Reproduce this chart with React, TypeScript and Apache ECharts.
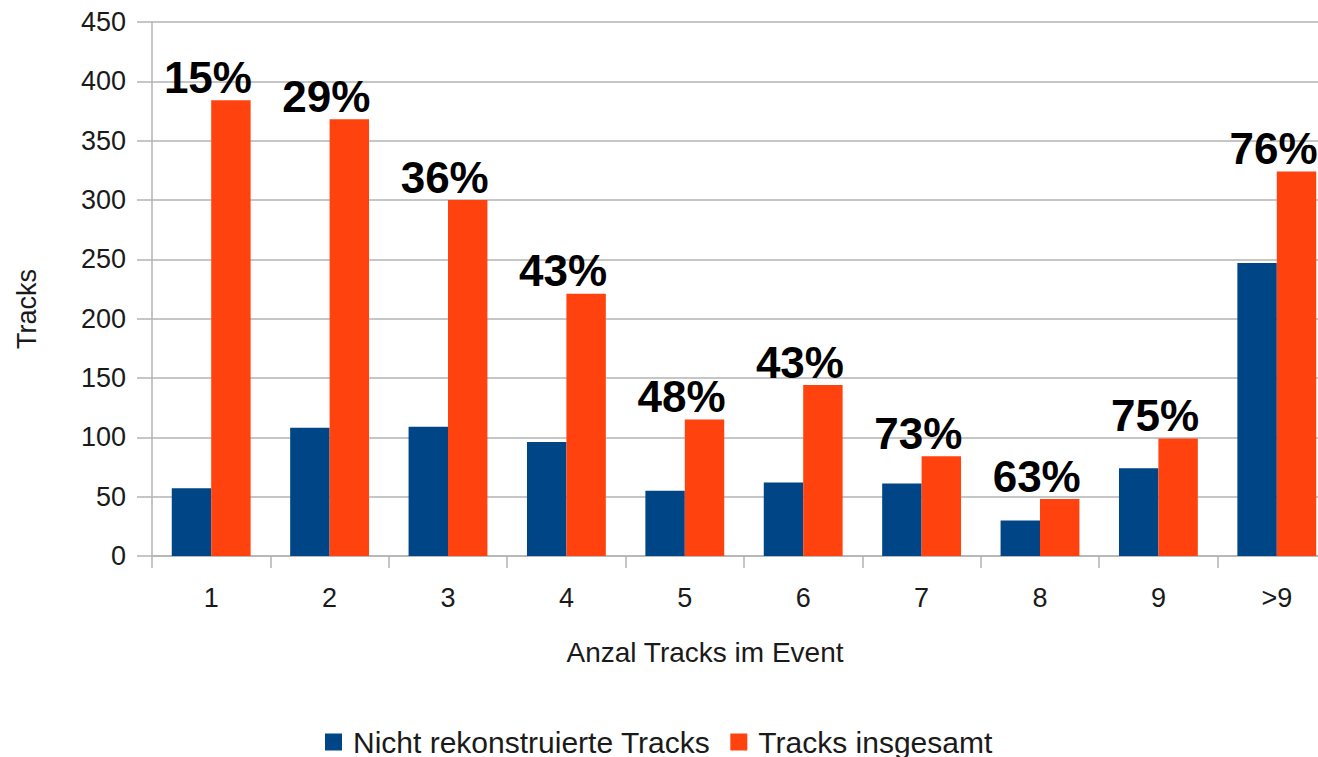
import React, { useEffect, useRef } from "react";
import * as echarts from "echarts";

// Number of tracks in an event (x categories)
const categories = ["1", "2", "3", "4", "5", "6", "7", "8", "9", ">9"];
// Tracks that were not reconstructed
const notReconstructed = [57, 108, 109, 96, 55, 62, 61, 30, 74, 247];
// All tracks
const totalTracks = [384, 368, 300, 221, 115, 144, 84, 48, 99, 324];
// Value axis ticks
const yMin = 0;
const yMax = 450;
const yStep = 50;

const FONT = "'Liberation Sans', Arial, sans-serif";
const BLUE = "#004586";
const ORANGE = "#ff420e";
const GRID = "#b3b3b3";

// share of non-reconstructed tracks, printed above each pair of bars
const shareLabel = (i: number) =>
  Math.round((notReconstructed[i] / totalTracks[i]) * 100) + "%";

export default function App() {
  const ref = useRef<HTMLDivElement>(null);

  useEffect(() => {
    if (!ref.current) return;
    const chart = echarts.init(ref.current, undefined, { renderer: "svg" });
    chart.setOption({
      animation: false,
      textStyle: { fontFamily: FONT },
      // the plot runs a little past the right edge of the visible frame
      grid: { left: 152, top: 22, right: 4, bottom: 201, containLabel: false },
      legend: {
        bottom: 0,
        left: 325,
        padding: 0,
        icon: "rect",
        itemWidth: 17,
        itemHeight: 17,
        itemGap: 20,
        textStyle: { fontFamily: FONT, fontSize: 30, color: "#1a1a1a", padding: [0, 0, 0, 6] },
        data: ["Nicht rekonstruierte Tracks", "Tracks insgesamt"],
      },
      xAxis: {
        type: "category",
        data: categories,
        boundaryGap: true,
        axisLine: { show: true, lineStyle: { color: GRID, width: 1.5 } },
        axisTick: { show: true, length: 12, lineStyle: { color: GRID, width: 1.5 } },
        axisLabel: { fontFamily: FONT, fontSize: 27, color: "#1a1a1a", margin: 28 },
      },
      yAxis: {
        type: "value",
        min: yMin,
        max: yMax,
        interval: yStep,
        axisLine: { show: true, lineStyle: { color: GRID, width: 1.5 } },
        axisTick: { show: true, length: 15, lineStyle: { color: GRID, width: 1.5 } },
        splitLine: { show: true, lineStyle: { color: GRID, width: 1.5 } },
        axisLabel: { fontFamily: FONT, fontSize: 27, color: "#1a1a1a", margin: 26 },
      },
      series: [
        {
          name: "Nicht rekonstruierte Tracks",
          type: "bar",
          data: notReconstructed,
          barGap: "0%",
          barCategoryGap: "33.4%",
          itemStyle: { color: BLUE },
        },
        {
          name: "Tracks insgesamt",
          type: "bar",
          data: totalTracks,
          barGap: "0%",
          barCategoryGap: "33.4%",
          itemStyle: { color: ORANGE },
          label: {
            show: true,
            position: "top",
            distance: 1,
            offset: [-23, 0],
            fontFamily: FONT,
            fontWeight: "bold",
            fontSize: 44,
            color: "#000",
            formatter: (p: any) => shareLabel(p.dataIndex),
          },
        },
      ],
      graphic: [
        {
          type: "text",
          x: 705,
          y: 652,
          style: {
            text: "Anzal Tracks im Event",
            fontFamily: FONT,
            fontSize: 28,
            fill: "#1a1a1a",
            textAlign: "center",
            textVerticalAlign: "middle",
          },
        },
        {
          type: "text",
          x: 27,
          y: 309,
          rotation: Math.PI / 2,
          style: {
            text: "Tracks",
            fontFamily: FONT,
            fontSize: 27,
            fill: "#1a1a1a",
            textAlign: "center",
            textVerticalAlign: "middle",
          },
        },
      ],
    });
    return () => chart.dispose();
  }, []);

  return (
    <div
      style={{ position: "absolute", left: 0, top: 0, width: 1318, height: 757, overflow: "hidden", background: "#fff" }}
    >
      <div ref={ref} style={{ width: 1340, height: 757 }} />
    </div>
  );
}
